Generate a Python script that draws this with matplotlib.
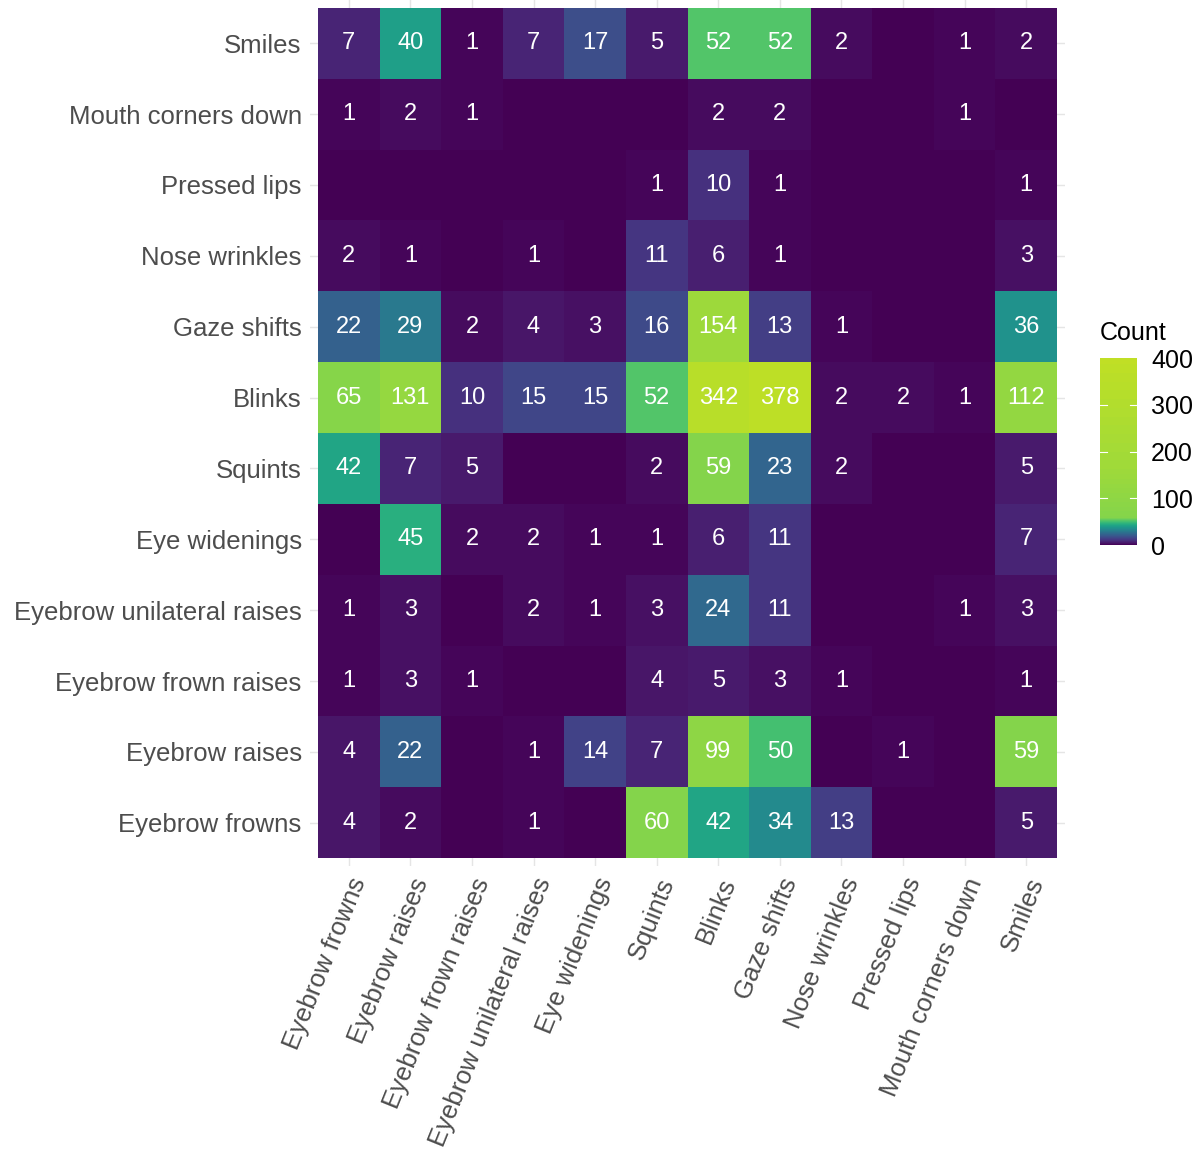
import numpy as np
import matplotlib
matplotlib.use('Agg')
import matplotlib.pyplot as plt
from matplotlib.colors import ListedColormap

plt.rcParams['font.family'] = ['Liberation Sans', 'DejaVu Sans']

# 行（从上到下）和列（从左到右）的类别
row_labels = ['Smiles', 'Mouth corners down', 'Pressed lips', 'Nose wrinkles',
              'Gaze shifts', 'Blinks', 'Squints', 'Eye widenings',
              'Eyebrow unilateral raises', 'Eyebrow frown raises',
              'Eyebrow raises', 'Eyebrow frowns']
col_labels = ['Eyebrow frowns', 'Eyebrow raises', 'Eyebrow frown raises',
              'Eyebrow unilateral raises', 'Eye widenings', 'Squints', 'Blinks',
              'Gaze shifts', 'Nose wrinkles', 'Pressed lips',
              'Mouth corners down', 'Smiles']

# 共现次数，0 表示没有
smiles       = [7, 40, 1, 7, 17, 5, 52, 52, 2, 0, 1, 2]
mouth_down   = [1, 2, 1, 0, 0, 0, 2, 2, 0, 0, 1, 0]
pressed_lips = [0, 0, 0, 0, 0, 1, 10, 1, 0, 0, 0, 1]
nose_wrinkle = [2, 1, 0, 1, 0, 11, 6, 1, 0, 0, 0, 3]
gaze_shifts  = [22, 29, 2, 4, 3, 16, 154, 13, 1, 0, 0, 36]
blinks       = [65, 131, 10, 15, 15, 52, 342, 378, 2, 2, 1, 112]
squints      = [42, 7, 5, 0, 0, 2, 59, 23, 2, 0, 0, 5]
eye_widen    = [0, 45, 2, 2, 1, 1, 6, 11, 0, 0, 0, 7]
brow_unilat  = [1, 3, 0, 2, 1, 3, 24, 11, 0, 0, 1, 3]
brow_fr_rais = [1, 3, 1, 0, 0, 4, 5, 3, 1, 0, 0, 1]
brow_raises  = [4, 22, 0, 1, 14, 7, 99, 50, 0, 1, 0, 59]
brow_frowns  = [4, 2, 0, 1, 0, 60, 42, 34, 13, 0, 0, 5]

counts = np.array([smiles, mouth_down, pressed_lips, nose_wrinkle, gaze_shifts,
                   blinks, squints, eye_widen, brow_unilat, brow_fr_rais,
                   brow_raises, brow_frowns])

# 非线性的 viridis 色阶：低值区间拉开，高值区间压缩
vmax = 400
breaks_v = [0, 50, 58, 160, 400]
breaks_c = [0.0, 0.70, 0.815, 0.855, 0.905]
v = np.linspace(0, vmax, 1601)
cmap = ListedColormap(plt.get_cmap('viridis')(np.interp(v, breaks_v, breaks_c)))

W, H = 1201, 1156
fig = plt.figure(figsize=(W / 100, H / 100), dpi=100)
ax = fig.add_axes([310 / W, 1 - 866 / H, 755 / W, 866 / H])

n_r, n_c = counts.shape
ax.pcolormesh(np.arange(n_c + 1) - 0.5, np.arange(n_r + 1) - 0.5, counts,
              cmap=cmap, vmin=0, vmax=vmax, zorder=2)
ax.set_xlim(-0.63, n_c - 0.37)
ax.set_ylim(n_r - 0.39, -0.61)

for i in range(n_r):
    for j in range(n_c):
        if counts[i, j] > 0:
            ax.text(j, i, str(counts[i, j]), ha='center', va='center',
                    color='white', fontsize=17, zorder=3)

# theme_minimal 风格的网格
ax.set_xticks(range(n_c))
ax.set_yticks(range(n_r))
ax.grid(True, color='#e5e5e5', linewidth=1.0, zorder=0)
ax.tick_params(length=0, pad=6, labelsize=18.5, labelcolor='#4d4d4d')
ax.set_yticklabels(row_labels)
ax.set_xticklabels(col_labels, rotation=68, ha='right', va='top',
                   rotation_mode='anchor')
for s in ax.spines.values():
    s.set_visible(False)

# 图例色条
cax = fig.add_axes([1100 / W, 1 - 545 / H, 37 / W, 187 / H])
sm = plt.cm.ScalarMappable(cmap=cmap, norm=plt.Normalize(0, vmax))
cb = fig.colorbar(sm, cax=cax, ticks=[0, 100, 200, 300, 400])
cb.outline.set_visible(False)
cax.tick_params(length=0, labelsize=18, pad=10)
for t in [100, 200, 300]:
    cax.plot([0, 0.2], [t, t], color='white', lw=0.8, transform=cax.get_yaxis_transform())
    cax.plot([0.8, 1], [t, t], color='white', lw=0.8, transform=cax.get_yaxis_transform())
fig.text(1100 / W, 1 - 333 / H, 'Count', fontsize=18, ha='left', va='center')

fig.savefig('out.png', dpi=100, facecolor='white')
